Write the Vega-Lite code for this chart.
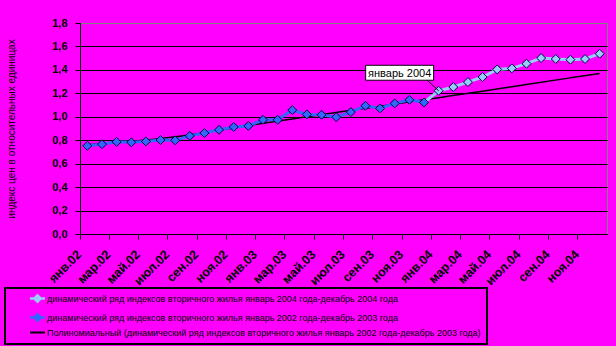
{
  "$schema": "https://vega.github.io/schema/vega-lite/v6.json",
  "width": 527,
  "height": 211,
  "autosize": {"type": "none"},
  "padding": {"left": 80, "top": 23, "right": 9, "bottom": 112},
  "background": "#FF00FF",
  "config": {
    "view": {"stroke": "#808080", "strokeWidth": 1},
    "font": "Liberation Sans",
    "legend": {
      "orient": "none", "legendX": -75, "legendY": 265, "direction": "vertical",
      "strokeColor": "black", "strokeWidth": 2, "fillColor": "#FF00FF", "padding": 6,
      "labelFont": "Liberation Sans", "labelFontSize": 9, "labelColor": "black", "labelLimit": 700,
      "symbolSize": 225, "symbolOffset": 22, "rowPadding": 2, "labelOffset": 5
    }
  },
  "datasets": {
    "series": [
      {"m": "янв.02", "s": "c", "v": 0.762},
      {"m": "апр.02", "s": "c", "v": 0.79},
      {"m": "июл.02", "s": "c", "v": 0.83},
      {"m": "окт.02", "s": "c", "v": 0.885},
      {"m": "янв.03", "s": "c", "v": 0.945},
      {"m": "апр.03", "s": "c", "v": 1.0},
      {"m": "июл.03", "s": "c", "v": 1.055},
      {"m": "окт.03", "s": "c", "v": 1.108},
      {"m": "янв.04", "s": "c", "v": 1.163},
      {"m": "апр.04", "s": "c", "v": 1.218},
      {"m": "июл.04", "s": "c", "v": 1.275},
      {"m": "окт.04", "s": "c", "v": 1.332},
      {"m": "дек.04", "s": "c", "v": 1.37},
      {"m": "дек.03", "s": "a", "v": 1.122},
      {"m": "янв.04", "s": "a", "v": 1.222},
      {"m": "фев.04", "s": "a", "v": 1.254},
      {"m": "мар.04", "s": "a", "v": 1.296},
      {"m": "апр.04", "s": "a", "v": 1.339},
      {"m": "май.04", "s": "a", "v": 1.404},
      {"m": "июн.04", "s": "a", "v": 1.413},
      {"m": "июл.04", "s": "a", "v": 1.453},
      {"m": "авг.04", "s": "a", "v": 1.501},
      {"m": "сен.04", "s": "a", "v": 1.493},
      {"m": "окт.04", "s": "a", "v": 1.487},
      {"m": "ноя.04", "s": "a", "v": 1.493},
      {"m": "дек.04", "s": "a", "v": 1.538},
      {"m": "янв.02", "s": "b", "v": 0.752},
      {"m": "фев.02", "s": "b", "v": 0.766},
      {"m": "мар.02", "s": "b", "v": 0.786},
      {"m": "апр.02", "s": "b", "v": 0.782},
      {"m": "май.02", "s": "b", "v": 0.79},
      {"m": "июн.02", "s": "b", "v": 0.802},
      {"m": "июл.02", "s": "b", "v": 0.799},
      {"m": "авг.02", "s": "b", "v": 0.837},
      {"m": "сен.02", "s": "b", "v": 0.861},
      {"m": "окт.02", "s": "b", "v": 0.889},
      {"m": "ноя.02", "s": "b", "v": 0.913},
      {"m": "дек.02", "s": "b", "v": 0.922},
      {"m": "янв.03", "s": "b", "v": 0.974},
      {"m": "фев.03", "s": "b", "v": 0.974},
      {"m": "мар.03", "s": "b", "v": 1.057},
      {"m": "апр.03", "s": "b", "v": 1.02},
      {"m": "май.03", "s": "b", "v": 1.017},
      {"m": "июн.03", "s": "b", "v": 0.997},
      {"m": "июл.03", "s": "b", "v": 1.04},
      {"m": "авг.03", "s": "b", "v": 1.094},
      {"m": "сен.03", "s": "b", "v": 1.071},
      {"m": "окт.03", "s": "b", "v": 1.114},
      {"m": "ноя.03", "s": "b", "v": 1.145},
      {"m": "дек.03", "s": "b", "v": 1.122}
    ],
    "note": [{"m": "янв.04", "v": 1.222, "t": "январь 2004"}]
  },
  "data": {"name": "series"},
  "encoding": {
    "x": {
      "field": "m", "type": "ordinal", "sort": null,
      "scale": {
        "type": "band", "paddingInner": 0, "paddingOuter": 0,
        "domain": ["янв.02","фев.02","мар.02","апр.02","май.02","июн.02","июл.02","авг.02","сен.02","окт.02","ноя.02","дек.02",
                   "янв.03","фев.03","мар.03","апр.03","май.03","июн.03","июл.03","авг.03","сен.03","окт.03","ноя.03","дек.03",
                   "янв.04","фев.04","мар.04","апр.04","май.04","июн.04","июл.04","авг.04","сен.04","окт.04","ноя.04","дек.04"]
      },
      "axis": {
        "title": null,
        "values": ["янв.02","мар.02","май.02","июл.02","сен.02","ноя.02","янв.03","мар.03","май.03","июл.03","сен.03","ноя.03","янв.04","мар.04","май.04","июл.04","сен.04","ноя.04"],
        "bandPosition": 0, "labelAngle": -45, "labelAlign": "right", "labelBaseline": "middle",
        "labelFontWeight": "bold", "labelFontSize": 12.5, "labelColor": "black", "labelPadding": 13,
        "labelOffset": -8,
        "labelOverlap": false, "tickColor": "black", "tickSize": 5, "domainColor": "black", "grid": false
      }
    },
    "y": {
      "field": "v", "type": "quantitative",
      "scale": {"domain": [0, 1.8], "nice": false},
      "axis": {
        "title": "индекс цен в относительных единицах",
        "values": [0, 0.2, 0.4, 0.6, 0.8, 1.0, 1.2, 1.4, 1.6, 1.8],
        "format": ".1f", "labelExpr": "replace(datum.label, '.', ',')",
        "labelFontWeight": "bold", "labelFontSize": 11, "labelColor": "black", "labelPadding": 8,
        "tickColor": "black", "tickSize": 5, "domainColor": "black",
        "grid": true, "gridOpacity": 1,
        "gridColor": {"condition": {"test": "datum.value >= 1.79", "value": "#808080"}, "value": "black"},
        "titleFontSize": 10, "titleFontWeight": "normal", "titleColor": "black", "titlePadding": 35
      }
    }
  },
  "layer": [
    {
      "transform": [{"filter": "datum.s == 'c'"}],
      "mark": {"type": "line", "strokeWidth": 1.5, "interpolate": "monotone"},
      "encoding": {
        "color": {
          "field": "s", "type": "nominal",
          "scale": {"domain": ["a", "b", "c"], "range": ["#99CCFF", "#3366FF", "#000000"]},
          "legend": {
            "title": null,
            "labelExpr": "datum.value === 'a' ? 'динамический ряд индексов вторичного жилья январь 2004 года-декабрь 2004 года' : datum.value === 'b' ? 'динамический ряд индексов вторичного жилья январь 2002 года-декабрь 2003 года' : 'Полиномиальный (динамический ряд индексов вторичного жилья январь 2002 года-декабрь 2003 года)\u2003\u2003\u2003\u2003\u2003\u2003\u2003\u2003\u2003\u2003\u2003\u2003\u2003\u2003'",
            "encode": {
              "symbols": {
                "update": {
                  "shape": {"signal": "datum.value === 'c' ? 'M-1,0H1' : 'M-1,0H1M0,-0.42L0.42,0L0,0.42L-0.42,0Z'"},
                  "fill": {"scale": "color", "field": "value"},
                  "stroke": {"scale": "color", "field": "value"},
                  "strokeWidth": {"signal": "datum.value === 'c' ? 2 : 2.5"},
                  "opacity": {"value": 1}
                }
              }
            }
          }
        }
      }
    },
    {
      "transform": [{"filter": "datum.s == 'a'"}],
      "mark": {"type": "line", "strokeWidth": 3},
      "encoding": {"color": {"field": "s", "type": "nominal"}}
    },
    {
      "transform": [{"filter": "datum.s == 'b'"}],
      "mark": {"type": "line", "strokeWidth": 3},
      "encoding": {"color": {"field": "s", "type": "nominal"}}
    },
    {
      "transform": [{"filter": "datum.s != 'c'"}],
      "mark": {"type": "point", "shape": "diamond", "filled": true, "size": 80, "stroke": "#000040", "strokeWidth": 1, "opacity": 1},
      "encoding": {"color": {"field": "s", "type": "nominal"}}
    },
    {
      "data": {"name": "note"},
      "mark": {"type": "point", "shape": "M0,0L-1,-0.92", "size": 676, "filled": false, "stroke": "black", "strokeWidth": 1, "opacity": 1}
    },
    {
      "data": {"name": "note"},
      "mark": {"type": "point", "shape": "M-1,-0.22H1V0.22H-1Z", "size": 4624, "filled": true, "fill": "white", "stroke": "black", "strokeWidth": 1, "opacity": 1, "xOffset": -39, "yOffset": -18}
    },
    {
      "data": {"name": "note"},
      "mark": {"type": "text", "fontSize": 11, "font": "Liberation Sans", "color": "black", "align": "center", "baseline": "middle", "dx": -39, "dy": -17},
      "encoding": {"text": {"field": "t"}}
    }
  ]
}
